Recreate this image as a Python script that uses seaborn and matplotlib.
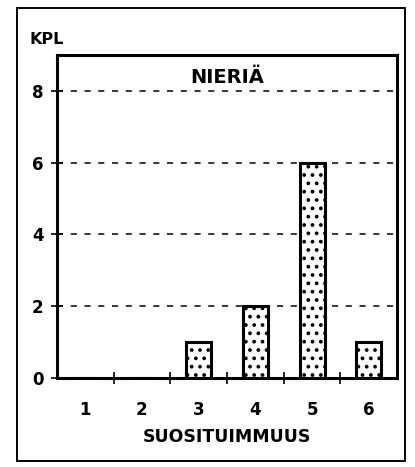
import matplotlib
matplotlib.use('Agg')
import matplotlib.pyplot as plt
import seaborn as sns
import pandas as pd
from matplotlib.patches import Rectangle

# Values
categories = ['1', '2', '3', '4', '5', '6']
counts = [0, 0, 1, 2, 6, 1]
y_ticks = [0, 2, 4, 6, 8]

df = pd.DataFrame({'suosituimmuus': categories, 'kpl': counts})

sns.set_style('white')
plt.rcParams['font.family'] = ['DejaVu Sans']
plt.rcParams['font.weight'] = 'bold'
plt.rcParams['hatch.linewidth'] = 1.5
for key in ['text.color', 'axes.labelcolor', 'xtick.color', 'ytick.color']:
    plt.rcParams[key] = 'black'

fig = plt.figure(figsize=(4.15, 4.67), dpi=100)
ax = fig.add_axes([0.137, 0.191, 0.820, 0.691])

sns.barplot(data=df, x='suosituimmuus', y='kpl', color='white', edgecolor='black',
            linewidth=2.2, width=0.44, hatch='..', saturation=1, ax=ax)

ax.set_ylim(0, 9)
ax.set_xlim(-0.5, 5.5)
ax.set_yticks(y_ticks)
ax.set_yticklabels([str(v) for v in y_ticks], fontsize=12, fontweight='bold')
for v in y_ticks[1:]:
    ax.axhline(v, color='black', linestyle=(0, (4, 5)), linewidth=1.1, zorder=0)

ax.set_xticks(range(len(categories)))
ax.set_xticklabels(categories, fontsize=12, fontweight='bold')
ax.set_xticks([i + 0.5 for i in range(len(categories) - 1)], minor=True)
ax.tick_params(axis='x', which='major', bottom=False, length=0, pad=17)
ax.tick_params(axis='x', which='minor', bottom=True, direction='inout', length=9, width=1.2)
ax.tick_params(axis='y', which='major', left=True, direction='inout', length=9, width=1.2, pad=5)

for s in ax.spines.values():
    s.set_linewidth(2.2)
    s.set_color('black')

ax.set_xlabel('SUOSITUIMMUUS', fontsize=12.5, fontweight='bold', labelpad=6)
ax.set_ylabel('')
ax.text(0.5, 0.93, 'NIERIÄ', transform=ax.transAxes, ha='center', va='center',
        fontsize=14, fontweight='bold')
fig.text(0.072, 0.915, 'KPL', fontsize=11.5, fontweight='bold', va='center')

fig.patches.append(Rectangle((0.041, 0.012), 0.935, 0.970, transform=fig.transFigure,
                             fill=False, edgecolor='black', linewidth=1.4))

fig.savefig('out.png', dpi=100)
